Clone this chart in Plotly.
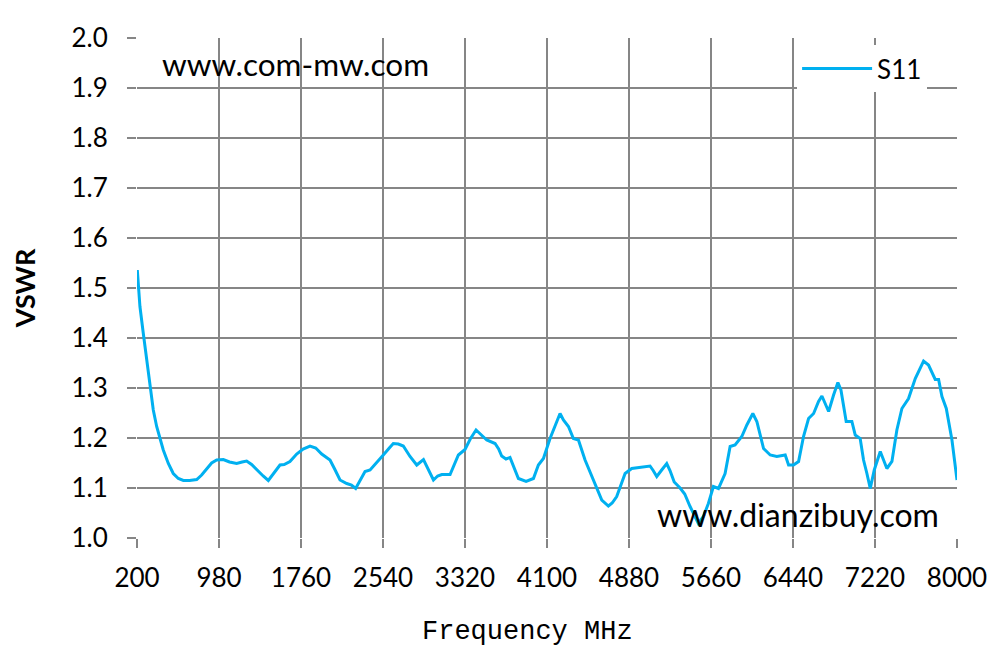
import plotly.graph_objects as go

# S11 VSWR readings
freq_mhz = [
    203, 228, 260, 292, 324, 355, 387, 419, 450, 498, 545, 593, 641, 700,
    768, 815, 863, 910, 958, 1021, 1080, 1148, 1200, 1243, 1290, 1339, 1400,
    1449, 1500, 1560, 1600, 1655, 1719, 1780, 1846, 1900, 1957, 2036, 2080,
    2131, 2195, 2240, 2280, 2330, 2369, 2417, 2480, 2543, 2600, 2638, 2686,
    2733, 2797, 2861, 2925, 2972, 3020, 3060, 3099, 3178, 3220, 3257, 3320,
    3370, 3425, 3470, 3527, 3606, 3640, 3669, 3710, 3748, 3790, 3828, 3901,
    3971, 4018, 4066, 4129, 4177, 4224, 4256, 4304, 4351, 4399, 4462, 4541,
    4580, 4621, 4684, 4720, 4763, 4800, 4843, 4906, 4985, 5080, 5110, 5144,
    5191, 5239, 5270, 5310, 5366, 5410, 5461, 5500, 5540, 5588, 5635, 5683,
    5731, 5794, 5842, 5889, 5953, 6001, 6058, 6096, 6160, 6223, 6286, 6366,
    6398, 6445, 6493, 6540, 6588, 6636, 6683, 6715, 6747, 6779, 6826, 6867,
    6896, 6946, 7000, 7032, 7079, 7111, 7143, 7175, 7213, 7270, 7333, 7381,
    7428, 7476, 7539, 7603, 7682, 7729, 7793, 7825, 7857, 7898, 7952, 8000,
]
vswr = [
    1.536, 1.463, 1.409, 1.356, 1.296, 1.256, 1.223, 1.196, 1.176, 1.149,
    1.129, 1.119, 1.115, 1.115, 1.117, 1.126, 1.139, 1.150, 1.156, 1.157,
    1.152, 1.149, 1.152, 1.154, 1.147, 1.136, 1.124, 1.115, 1.130, 1.146,
    1.147, 1.153, 1.168, 1.178, 1.184, 1.180, 1.168, 1.156, 1.138, 1.116,
    1.109, 1.106, 1.099, 1.118, 1.133, 1.136, 1.150, 1.166, 1.180, 1.189,
    1.188, 1.184, 1.163, 1.146, 1.157, 1.136, 1.116, 1.124, 1.127, 1.127,
    1.147, 1.166, 1.177, 1.198, 1.216, 1.207, 1.196, 1.189, 1.178, 1.164,
    1.158, 1.161, 1.140, 1.119, 1.113, 1.119, 1.146, 1.159, 1.199, 1.223,
    1.249, 1.236, 1.223, 1.199, 1.196, 1.156, 1.116, 1.096, 1.076, 1.064,
    1.070, 1.083, 1.105, 1.129, 1.139, 1.141, 1.144, 1.135, 1.123, 1.136,
    1.149, 1.135, 1.112, 1.100, 1.088, 1.063, 1.045, 1.029, 1.043, 1.069,
    1.103, 1.099, 1.129, 1.183, 1.186, 1.203, 1.226, 1.249, 1.233, 1.179,
    1.166, 1.163, 1.166, 1.146, 1.146, 1.153, 1.203, 1.239, 1.249, 1.273,
    1.284, 1.269, 1.253, 1.286, 1.311, 1.296, 1.233, 1.233, 1.206, 1.199,
    1.156, 1.129, 1.099, 1.136, 1.173, 1.139, 1.153, 1.216, 1.259, 1.279,
    1.319, 1.354, 1.346, 1.317, 1.317, 1.283, 1.259, 1.196, 1.116,
]

x_ticks = [200, 980, 1760, 2540, 3320, 4100, 4880, 5660, 6440, 7220, 8000]
y_ticks = [1.0, 1.1, 1.2, 1.3, 1.4, 1.5, 1.6, 1.7, 1.8, 1.9, 2.0]

grid_col = '#868686'

fig = go.Figure()
fig.add_trace(go.Scatter(x=freq_mhz, y=vswr, mode='lines', name='S11',
                         line=dict(color='#00B0F0', width=3)))

# page body has an 8px margin, so the margins are trimmed by that much
fig.update_layout(
    width=1005, height=665,
    margin=dict(l=129, r=56, t=30, b=135),
    paper_bgcolor='white', plot_bgcolor='white',
    font=dict(family='Lato', size=26, color='black'),
    showlegend=True,
    legend=dict(x=0.805, y=0.986, xanchor='left', yanchor='top',
                bgcolor='white', borderwidth=0, itemwidth=70,
                font=dict(size=26)),
)

fig.update_xaxes(
    range=[200, 8000], tickvals=x_ticks, ticktext=[str(v) for v in x_ticks],
    showgrid=True, gridcolor=grid_col, gridwidth=1.5,
    ticks='outside', ticklen=9, tickcolor=grid_col, tickwidth=1.5,
    ticklabelstandoff=8, zeroline=False,
)
fig.update_yaxes(
    range=[1.0, 2.0], tickvals=y_ticks, tickformat='.1f',
    showgrid=True, gridcolor=grid_col, gridwidth=1.5,
    ticks='outside', ticklen=9, tickcolor=grid_col, tickwidth=1.5,
    ticklabelstandoff=14, zeroline=False,
    title=dict(text='<b>VSWR</b>', font=dict(size=27), standoff=30),
)

# x axis title sits a little left of the plot centre in the original
fig.add_annotation(text='Frequency MHz', xref='paper', yref='paper',
                   x=0.476, y=-0.188, xanchor='center', yanchor='middle',
                   showarrow=False,
                   font=dict(family='Liberation Mono', size=27))

# watermark texts
fig.add_annotation(text='www.com-mw.com', xref='paper', yref='paper',
                   x=0.028, y=0.948, xanchor='left', yanchor='middle',
                   showarrow=False, font=dict(size=31.5))
fig.add_annotation(text='www.dianzibuy.com', xref='paper', yref='paper',
                   x=0.98, y=0.048, xanchor='right', yanchor='middle',
                   showarrow=False, font=dict(size=32))

fig.write_html("out.html")
